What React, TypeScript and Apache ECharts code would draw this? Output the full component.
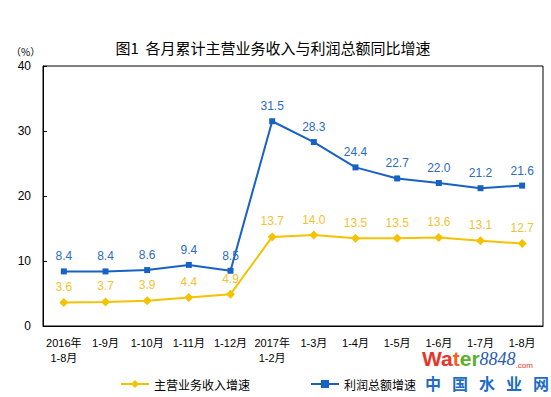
import React, { useEffect, useRef } from "react";
import * as echarts from "echarts";

const categories = [
  "2016年\n1-8月", "1-9月", "1-10月", "1-11月", "1-12月",
  "2017年\n1-2月", "1-3月", "1-4月", "1-5月", "1-6月", "1-7月", "1-8月",
];
const revenueGrowth = [3.6, 3.7, 3.9, 4.4, 4.9, 13.7, 14.0, 13.5, 13.5, 13.6, 13.1, 12.7];
const profitGrowth = [8.4, 8.4, 8.6, 9.4, 8.5, 31.5, 28.3, 24.4, 22.7, 22.0, 21.2, 21.6];
const yTicks = { min: 0, max: 40, interval: 10 };
const watermarkChars = ["中", "国", "水", "业", "网"];

const FONT = "'Liberation Sans', 'Noto Sans CJK SC', sans-serif";
const YELLOW = "#F5C200";
const BLUE = "#1762C2";

export default function App() {
  const ref = useRef<HTMLDivElement>(null);
  useEffect(() => {
    document.body.style.margin = "0";
    const chart = echarts.init(ref.current!, null, { renderer: "svg" });
    chart.setOption({
      animation: false,
      backgroundColor: "#fff",
      textStyle: { fontFamily: FONT },
      title: {
        text: "图1  各月累计主营业务收入与利润总额同比增速",
        left: 268,
        textAlign: "center",
        top: 35,
        textStyle: { fontSize: 15, fontWeight: "normal", color: "#000", fontFamily: "'Noto Sans CJK SC', sans-serif" },
      },
      grid: { left: 43, right: 8, top: 66, bottom: 71, show: true, borderColor: "#000", borderWidth: 1, backgroundColor: "transparent" },
      legend: {
        left: 115,
        top: 373,
        itemGap: 60,
        itemWidth: 28,
        itemHeight: 10,
        textStyle: { fontSize: 12, color: "#000", fontFamily: "'Noto Sans CJK SC', sans-serif" },
        data: ["主营业务收入增速", "利润总额增速"],
      },
      xAxis: {
        type: "category",
        data: categories,
        boundaryGap: true,
        axisLine: { lineStyle: { color: "#000" } },
        axisTick: { inside: true, length: 4, lineStyle: { color: "#000" } },
        axisLabel: { interval: 0, fontSize: 11, color: "#000", margin: 9, lineHeight: 15, fontFamily: FONT },
      },
      yAxis: {
        type: "value",
        min: yTicks.min,
        max: yTicks.max,
        interval: yTicks.interval,
        splitLine: { show: false },
        axisLine: { show: true, lineStyle: { color: "#000" } },
        axisTick: { show: true, inside: true, length: 4, lineStyle: { color: "#000" } },
        axisLabel: { fontSize: 12, color: "#000", margin: 12, fontFamily: FONT },
      },
      series: [
        {
          name: "主营业务收入增速",
          type: "line",
          data: revenueGrowth,
          symbol: "diamond",
          symbolSize: 9,
          itemStyle: { color: YELLOW },
          lineStyle: { color: YELLOW, width: 2 },
          label: { show: true, position: "top", distance: 5, fontSize: 12, color: "#F2C232", formatter: (p: any) => p.value.toFixed(1) },
        },
        {
          name: "利润总额增速",
          type: "line",
          data: profitGrowth,
          symbol: "rect",
          symbolSize: 6,
          itemStyle: { color: BLUE },
          lineStyle: { color: BLUE, width: 2 },
          label: { show: true, position: "top", distance: 6, fontSize: 12, color: "#2A6BC0", formatter: (p: any) => p.value.toFixed(1) },
        },
      ],
      graphic: [
        {
          type: "text",
          left: 11,
          top: 46,
          style: { text: "（%）", fill: "#000", fontSize: 10, fontFamily: "'Noto Sans CJK SC', sans-serif" },
        },
        {
          type: "text",
          left: 422,
          top: 348,
          style: {
            text: "{r|Wa}{o|t}{g|er}{b|8848}{c|.com}",
            rich: {
              r: { fill: "#E8352B", fontSize: 21, fontWeight: "bold", fontFamily: "'Liberation Sans', sans-serif" },
              o: { fill: "#F0641E", fontSize: 21, fontWeight: "bold", fontFamily: "'Liberation Sans', sans-serif" },
              g: { fill: "#5DAF2E", fontSize: 21, fontWeight: "bold", fontFamily: "'Liberation Sans', sans-serif" },
              b: { fill: "#2A5CB0", fontSize: 18, fontStyle: "italic", fontFamily: "'Liberation Serif', serif" },
              c: { fill: "#E8352B", fontSize: 8, fontFamily: "'Liberation Sans', sans-serif", verticalAlign: "bottom" },
            },
          },
        },
        ...watermarkChars.map((ch, i) => ({
          type: "text",
          left: 425 + i * 27,
          top: 375,
          style: {
            text: ch,
            fill: "#1E6CC4",
            fontSize: 16,
            fontWeight: "bold",
            fontFamily: "'Noto Sans CJK SC', sans-serif",
          },
        })),
      ],
    });
    return () => chart.dispose();
  }, []);
  return <div ref={ref} style={{ width: 551, height: 397 }} />;
}
